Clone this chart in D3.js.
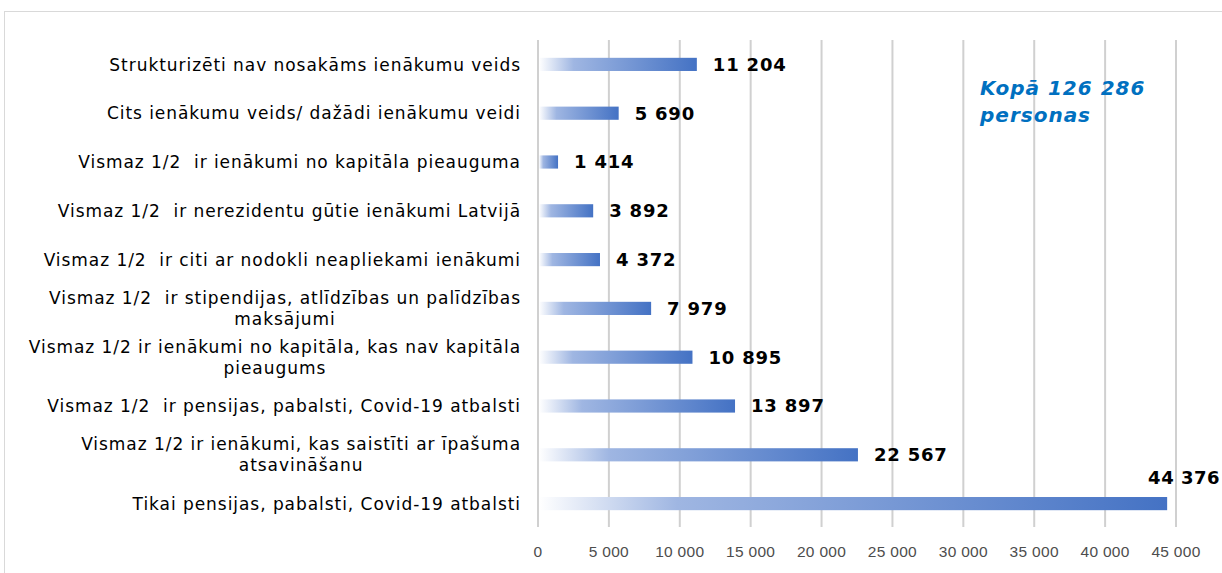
<!DOCTYPE html>
<html>
<head>
<meta charset="utf-8">
<script src="https://cdn.jsdelivr.net/npm/d3@7"></script>
<style>
  body { margin: 0; background: #fff; }
  text { font-family: "DejaVu Sans", Verdana, sans-serif; }
</style>
</head>
<body>
<div id="chart"></div>
<script>
// categories, top to bottom (each entry = lines of the label)
const categories = [
  ['Strukturizēti nav nosakāms ienākumu veids'],
  ['Cits ienākumu veids/ dažādi ienākumu veidi'],
  ['Vismaz 1/2  ir ienākumi no kapitāla pieauguma'],
  ['Vismaz 1/2  ir nerezidentu gūtie ienākumi Latvijā'],
  ['Vismaz 1/2  ir citi ar nodokli neapliekami ienākumi'],
  ['Vismaz 1/2  ir stipendijas, atlīdzības un palīdzības', 'maksājumi'],
  ['Vismaz 1/2 ir ienākumi no kapitāla, kas nav kapitāla', 'pieaugums'],
  ['Vismaz 1/2  ir pensijas, pabalsti, Covid-19 atbalsti'],
  ['Vismaz 1/2 ir ienākumi, kas saistīti ar īpašuma', 'atsavināšanu'],
  ['Tikai pensijas, pabalsti, Covid-19 atbalsti']
];
const values = [11204, 5690, 1414, 3892, 4372, 7979, 10895, 13897, 22567, 44376];
const xTicks = [0, 5000, 10000, 15000, 20000, 25000, 30000, 35000, 40000, 45000];
const totalLines = ['Kopā 126 286', 'personas'];

const width = 1222, height = 573;
const fmt = v => d3.format(',')(v).replace(/,/g, ' ');

const svg = d3.select('#chart').append('svg')
    .attr('width', width)
    .attr('height', height);

// chart frame
svg.append('rect')
    .attr('x', 4.5).attr('y', 11.5)
    .attr('width', 1240).attr('height', 600)
    .attr('fill', 'none')
    .attr('stroke', '#d9d9d9');

const x = d3.scaleLinear().domain([0, 45000]).range([538, 1176]);
const y = d3.scaleBand().domain(d3.range(categories.length)).range([40, 528]).paddingInner(0.73).paddingOuter(0.365);

// gradient
const grad = svg.append('defs').append('linearGradient')
    .attr('id', 'barGrad')
    .attr('x1', '0%').attr('x2', '100%');
grad.append('stop').attr('offset', '0%').attr('stop-color', '#ffffff');
grad.append('stop').attr('offset', '22%').attr('stop-color', '#9fb6e2');
grad.append('stop').attr('offset', '100%').attr('stop-color', '#4472c4');

// gridlines
svg.append('g')
    .selectAll('line')
    .data(xTicks)
    .join('line')
        .attr('x1', d => x(d)).attr('x2', d => x(d))
        .attr('y1', 40).attr('y2', 527)
        .attr('stroke', '#d0d0d0')
        .attr('stroke-width', 2);

// x axis labels
svg.append('g')
    .selectAll('text')
    .data(xTicks)
    .join('text')
        .attr('x', d => x(d))
        .attr('y', 557)
        .attr('text-anchor', 'middle')
        .attr('fill', '#4d4d4d')
        .style('font-family', '"Liberation Sans", Arial, sans-serif')
        .style('font-size', '15.5px')
        .style('letter-spacing', '0.3px')
        .text(d => fmt(d));

// bars
svg.append('g')
    .selectAll('rect')
    .data(values)
    .join('rect')
        .attr('x', x(0) + 1)
        .attr('y', (d, i) => y(i))
        .attr('width', d => x(d) - x(0) - 1)
        .attr('height', y.bandwidth())
        .attr('fill', 'url(#barGrad)');

// value labels (last one sits above its bar, pinned to the right edge)
const last = values.length - 1;
svg.append('g')
    .selectAll('text')
    .data(values)
    .join('text')
        .attr('x', (d, i) => i === last ? width - 2 : x(d) + 16)
        .attr('y', (d, i) => y(i) + y.bandwidth() / 2 + (i === last ? -26 : 0))
        .attr('dy', '0.36em')
        .attr('text-anchor', (d, i) => i === last ? 'end' : 'start')
        .attr('font-weight', 'bold')
        .style('font-size', '18px')
        .style('letter-spacing', (d, i) => i === last ? '0.5px' : '0.8px')
        .attr('fill', '#000')
        .text(d => fmt(d));

// category labels
const catG = svg.append('g')
    .selectAll('text')
    .data(categories)
    .join('text')
        .attr('y', (d, i) => y(i) + y.bandwidth() / 2)
        .style('font-size', '17px')
        .style('letter-spacing', '0.95px')
        .style('white-space', 'pre')
        .attr('fill', '#000');

catG.each(function(lines) {
    const t = d3.select(this);
    const cy = +t.attr('y');
    const right = 521;
    if (lines.length === 1) {
        t.append('tspan')
            .attr('x', right).attr('y', cy).attr('dy', '0.36em')
            .attr('text-anchor', 'end')
            .text(lines[0]);
    } else {
        // measure first line to center the second under it
        const first = t.append('tspan')
            .attr('x', right).attr('y', cy - 10.5).attr('dy', '0.36em')
            .attr('text-anchor', 'end')
            .text(lines[0]);
        const w = first.node().getComputedTextLength();
        t.append('tspan')
            .attr('x', right - w / 2).attr('y', cy + 10.5).attr('dy', '0.36em')
            .attr('text-anchor', 'middle')
            .text(lines[1]);
    }
});

// total annotation
svg.append('g')
    .selectAll('text')
    .data(totalLines)
    .join('text')
        .attr('x', 980)
        .attr('y', (d, i) => 88 + i * 27)
        .attr('dy', '0.36em')
        .attr('font-weight', 'bold')
        .attr('font-style', 'italic')
        .style('font-size', '20px')
        .style('letter-spacing', '1px')
        .attr('fill', '#0070c0')
        .text(d => d);
</script>
</body>
</html>
